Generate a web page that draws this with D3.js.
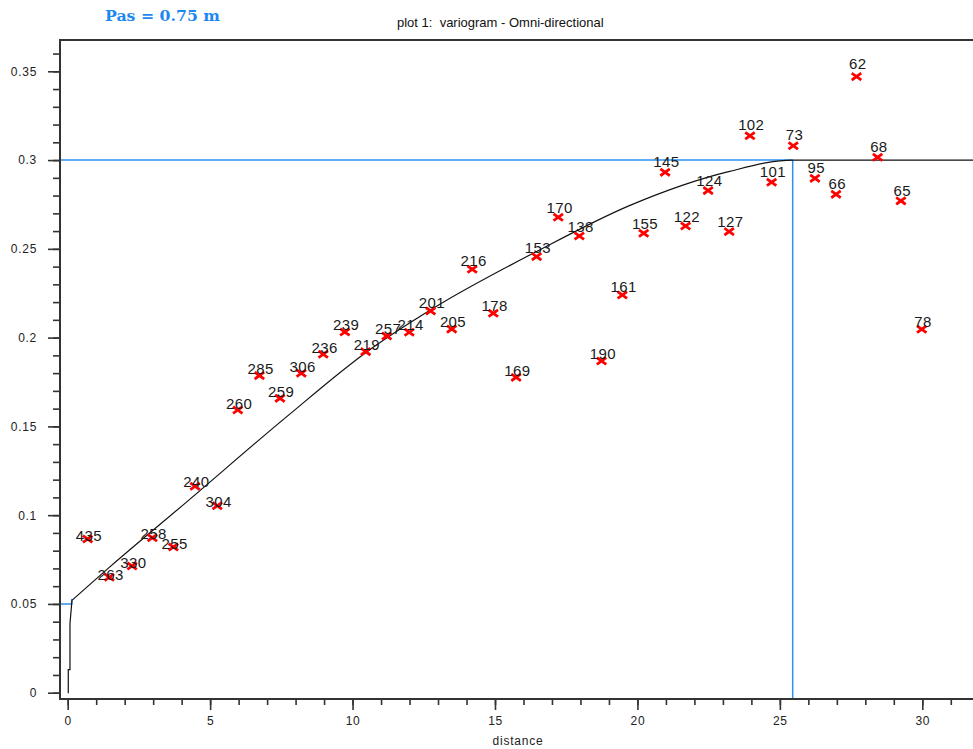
<!DOCTYPE html>
<html lang="en">
<head>
<meta charset="UTF-8">
<title>plot 1: variogram - Omni-directional</title>
<script src="https://d3js.org/d3.v7.min.js"></script>
<style>
    body { margin: 0; background: #fff; }
    svg { display: block; font-family: "Liberation Sans", Arial, sans-serif; }
    .tick text { font-size: 12px; fill: #222; letter-spacing: 0.7px; }
    .tick line { stroke: #333; stroke-width: 1.6; }
    .lbl { font-size: 15px; fill: #1a1a1a; letter-spacing: 0.4px; }
</style>
</head>
<body>
<div id="chart"></div>
<script>
    // experimental variogram: lag distance, gamma, number of pairs
    const lags = [0.70, 1.46, 2.26, 2.97, 3.71, 4.47, 5.25, 5.97, 6.73, 7.45,
                  8.20, 8.97, 9.73, 10.46, 11.20, 11.99, 12.74, 13.48, 14.20, 14.94,
                  15.74, 16.46, 17.22, 17.96, 18.74, 19.47, 20.22, 20.97, 21.69, 22.48,
                  23.22, 23.95, 24.71, 25.47, 26.23, 26.97, 27.69, 28.43, 29.25, 29.98];
    const gammas = [0.0866, 0.0650, 0.0714, 0.0873, 0.0821, 0.1163, 0.1053, 0.1592, 0.1786, 0.1658,
                    0.1799, 0.1906, 0.2032, 0.1921, 0.2009, 0.2030, 0.2150, 0.2048, 0.2385, 0.2137,
                    0.1776, 0.2456, 0.2678, 0.2572, 0.1868, 0.2240, 0.2588, 0.2931, 0.2629, 0.2828,
                    0.2597, 0.3137, 0.2875, 0.3081, 0.2897, 0.2807, 0.3470, 0.3016, 0.2770, 0.2047];
    const pairs = [435, 263, 330, 258, 255, 240, 304, 260, 285, 259,
                   306, 236, 239, 219, 257, 214, 201, 205, 216, 178,
                   169, 153, 170, 138, 190, 161, 155, 145, 122, 124,
                   127, 102, 101, 73, 95, 66, 62, 68, 65, 78];

    // fitted model: the nugget jump, then the smooth rise to the sill
    const jumpLag = [0, 0.02, 0.02, 0.08, 0.08, 0.15];
    const jumpGamma = [0, 0, 0.013, 0.013, 0.039, 0.052];
    const modelLag = [0.15, 1.49, 4.18, 7.69, 10.46, 12.83, 16.46, 19.74, 23.2, 25.45, 31.8];
    const modelGamma = [0.052, 0.071, 0.1075, 0.1555, 0.1915, 0.2165, 0.2485, 0.2745, 0.2935, 0.3, 0.3];

    const sill = 0.3, range = 25.45, nugget = 0.05, nuggetLag = 0.14;

    const xMajor = [0, 5, 10, 15, 20, 25, 30];
    const yMajor = [0, 0.05, 0.1, 0.15, 0.2, 0.25, 0.3, 0.35];

    const W = 973, H = 749;
    const plotLeft = 60, plotTop = 40, plotBottom = 699;

    const svg = d3.select("#chart").append("svg")
        .attr("width", W)
        .attr("height", H);

    const x = d3.scaleLinear().domain([0, 30]).range([67.7, 922.3]);
    const y = d3.scaleLinear().domain([0, 0.35]).range([692.7, 71.3]);
    // the pair counts sit on a slightly stretched vertical scale
    const yLabel = d3.scaleLinear().domain([0, 0.35]).range([697.5, 64]);

    // header texts
    svg.append("text")
        .attr("x", 105).attr("y", 21)
        .attr("textLength", 115).attr("lengthAdjust", "spacingAndGlyphs")
        .style("font-family", "'DejaVu Serif', serif")
        .style("font-weight", "bold")
        .style("font-size", "14px")
        .style("fill", "#1e88f0")
        .text("Pas = 0.75 m");

    svg.append("text")
        .attr("x", 397).attr("y", 27)
        .style("font-size", "13px")
        .style("fill", "#111")
        .style("white-space", "pre")
        .text("plot 1:  variogram - Omni-directional");

    // reference lines (sill, range, nugget)
    svg.append("line")
        .attr("x1", plotLeft).attr("x2", x(range))
        .attr("y1", y(sill)).attr("y2", y(sill))
        .attr("stroke", "#2b8ff2").attr("stroke-width", 1.5);
    svg.append("line")
        .attr("x1", x(range)).attr("x2", x(range))
        .attr("y1", y(sill)).attr("y2", plotBottom)
        .attr("stroke", "#2b8ff2").attr("stroke-width", 1.5);
    svg.append("path")
        .attr("d", `M${plotLeft},${y(nugget)}H${x(nuggetLag)}V${y(nugget) - 5}`)
        .attr("fill", "none")
        .attr("stroke", "#2b8ff2").attr("stroke-width", 1.5);

    // model curve
    const jump = jumpLag.map((d, i) => [d, jumpGamma[i]]);
    const model = modelLag.map((d, i) => [d, modelGamma[i]]);
    svg.append("path")
        .datum(jump)
        .attr("fill", "none")
        .attr("stroke", "#111")
        .attr("stroke-width", 1.2)
        .attr("d", d3.line().x(d => x(d[0])).y(d => y(d[1])));
    svg.append("path")
        .datum(model)
        .attr("fill", "none")
        .attr("stroke", "#111")
        .attr("stroke-width", 1.2)
        .attr("d", d3.line()
            .x(d => Math.min(x(d[0]), W))
            .y(d => y(d[1]))
            .curve(d3.curveMonotoneX));

    // axes
    const fmt = d => String(+d.toFixed(2));

    const yMinor = svg.append("g")
        .attr("transform", `translate(${plotLeft},0)`)
        .call(d3.axisLeft(y).tickValues(d3.range(0, 0.3601, 0.01)).tickSize(7).tickFormat(""));
    yMinor.select(".domain").remove();

    const yAxis = svg.append("g")
        .attr("transform", `translate(${plotLeft},0)`)
        .call(d3.axisLeft(y).tickValues(yMajor).tickSize(12).tickPadding(11).tickFormat(fmt));
    yAxis.select(".domain").remove();
    yAxis.selectAll("text").style("font-family", "'Liberation Sans', Arial, sans-serif");

    const xMinor = svg.append("g")
        .attr("transform", `translate(0,${plotBottom})`)
        .call(d3.axisBottom(x).tickValues(d3.range(0, 32, 1)).tickSize(6).tickFormat(""));
    xMinor.select(".domain").remove();

    const xAxis = svg.append("g")
        .attr("transform", `translate(0,${plotBottom})`)
        .call(d3.axisBottom(x).tickValues(xMajor).tickSize(11).tickPadding(6).tickFormat(fmt));
    xAxis.select(".domain").remove();
    xAxis.selectAll("text").style("font-family", "'Liberation Sans', Arial, sans-serif");

    // frame: left axis, bottom axis, top border
    svg.append("path")
        .attr("d", `M${W},${plotTop}H${plotLeft}V${plotBottom}H${W}`)
        .attr("fill", "none")
        .attr("stroke", "#333")
        .attr("stroke-width", 2);

    svg.append("text")
        .attr("x", 518).attr("y", 745)
        .attr("text-anchor", "middle")
        .style("font-size", "12px")
        .style("letter-spacing", "0.8px")
        .style("fill", "#222")
        .text("distance");

    // experimental points
    const pts = lags.map((d, i) => ({ h: d, g: gammas[i], n: pairs[i] }));

    svg.append("g").selectAll("path")
        .data(pts)
        .join("path")
        .attr("transform", d => `translate(${x(d.h)},${y(d.g)})`)
        .attr("d", "M-3.6,-2.6L3.6,2.6M-3.6,2.6L3.6,-2.6")
        .attr("stroke", "#ff0000")
        .attr("stroke-width", 2.8)
        .attr("stroke-linecap", "square");

    svg.append("g").selectAll("text")
        .data(pts)
        .join("text")
        .attr("class", "lbl")
        .attr("x", d => x(d.h) + 1.3)
        .attr("y", d => yLabel(d.g))
        .attr("text-anchor", "middle")
        .text(d => d.n);
</script>
</body>
</html>
